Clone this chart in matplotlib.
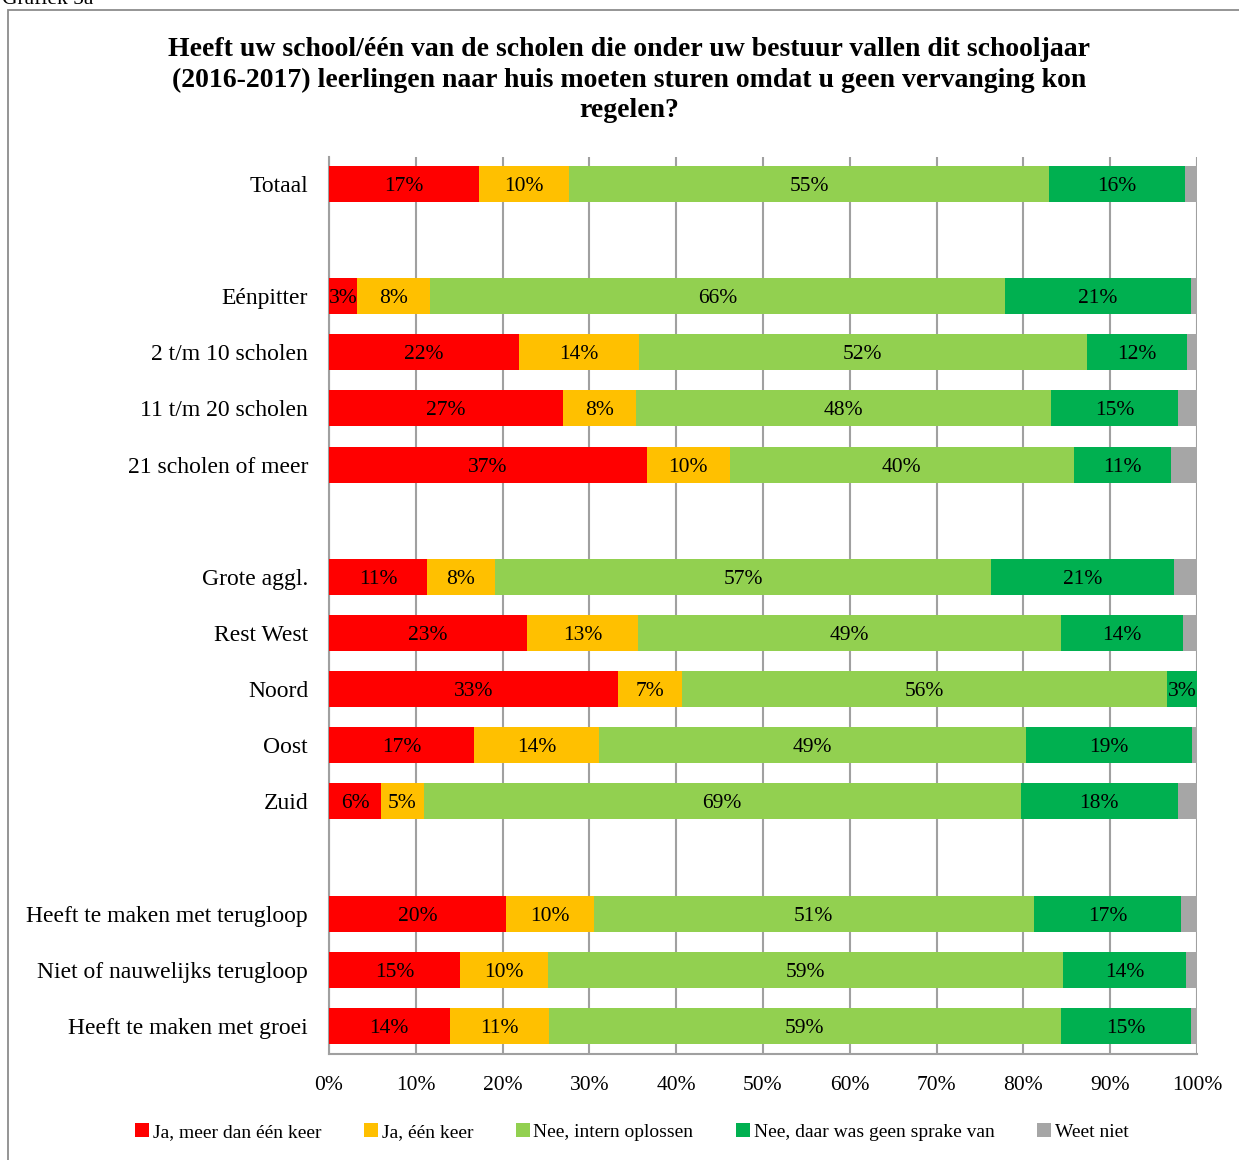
import matplotlib.pyplot as plt
from matplotlib.patches import Rectangle

plt.rcParams['font.family'] = ['Liberation Serif', 'DejaVu Serif']

categorieen = ["Totaal", "", "Eénpitter", "2 t/m 10 scholen", "11 t/m 20 scholen",
               "21 scholen of meer", "", "Grote aggl.", "Rest West", "Noord", "Oost",
               "Zuid", "", "Heeft te maken met terugloop", "Niet of nauwelijks terugloop",
               "Heeft te maken met groei"]

# percentages per reeks (lege rijen = None)
ja_meer = [17.3, None, 3.2, 21.9, 27.0, 36.6, None, 11.3, 22.8, 33.3, 16.7, 6.0, None, 20.4, 15.1, 13.9]
ja_een = [10.4, None, 8.4, 13.8, 8.4, 9.6, None, 7.8, 12.8, 7.4, 14.4, 4.9, None, 10.1, 10.1, 11.4]
nee_intern = [55.2, None, 66.3, 51.6, 47.8, 39.6, None, 57.2, 48.7, 55.9, 49.2, 68.8, None, 50.7, 59.4, 59.0]
nee_geen = [15.7, None, 21.4, 11.6, 14.6, 11.2, None, 21.1, 14.1, 3.4, 19.1, 18.1, None, 17.0, 14.1, 15.0]
weet_niet = [1.4, None, 0.7, 1.1, 2.2, 3.0, None, 2.6, 1.6, 0.0, 0.6, 2.2, None, 1.8, 1.3, 0.7]

reeksen = [ja_meer, ja_een, nee_intern, nee_geen, weet_niet]
namen = ["Ja, meer dan één keer", "Ja, één keer", "Nee, intern oplossen",
         "Nee, daar was geen sprake van", "Weet niet"]
kleuren = ["#FF0000", "#FFC000", "#92D050", "#00B050", "#A6A6A6"]
met_label = [True, True, True, True, False]

titel = ("Heeft uw school/één van de scholen die onder uw bestuur vallen dit schooljaar\n"
         "(2016-2017) leerlingen naar huis moeten sturen omdat u geen vervanging kon\n"
         "regelen?")

fig = plt.figure(figsize=(12.39, 11.6), dpi=100)
ax = fig.add_axes([0.2655, 0.0914, 0.7006, 0.7733])

rijen = [i for i, c in enumerate(categorieen) if c != ""]
links = {i: 0.0 for i in rijen}
for waarden, naam, kleur, lab in zip(reeksen, namen, kleuren, met_label):
    ys = [i for i in rijen]
    ws = [waarden[i] for i in rijen]
    ls = [links[i] for i in rijen]
    ax.barh(ys, ws, left=ls, height=0.64, color=kleur, label=naam, zorder=3)
    if lab:
        for y, w, l in zip(ys, ws, ls):
            ax.text(l + w / 2, y, f"{w:.0f}%", ha='center', va='center_baseline',
                    fontsize=15.5, color='black', zorder=4)
    for i in rijen:
        links[i] += waarden[i]

ax.set_xlim(0, 100)
ax.set_ylim(15.5, -0.48)
ax.set_xticks(range(0, 101, 10))
ax.set_xticklabels([f"{v}%" for v in range(0, 101, 10)], fontsize=15.5)
ax.set_yticks(range(len(categorieen)))
ax.set_yticklabels(categorieen, fontsize=17)
ax.tick_params(axis='both', length=0)
ax.tick_params(axis='x', pad=16)
ax.tick_params(axis='y', pad=15)
ax.grid(axis='x', color='#A0A0A0', linewidth=1.5, zorder=0)
for s in ['top', 'right']:
    ax.spines[s].set_visible(False)
for s in ['left', 'bottom']:
    ax.spines[s].set_color('#A0A0A0')
    ax.spines[s].set_linewidth(1.5)

fig.text(0.508, 1 - 37 / 1160, titel, ha='center', va='top', fontsize=20,
         fontweight='bold', linespacing=1.28)

fig.legend(loc='center', bbox_to_anchor=(0.51, 0.024), ncol=5, frameon=False,
           fontsize=14, handlelength=0.7, handleheight=0.7, handletextpad=0.2,
           columnspacing=2.2)

# kader en koptekst
fig.patches.append(Rectangle((8 / 1239, -0.1), 1.2, 1.1 - 10 / 1160,
                             transform=fig.transFigure, fill=False,
                             edgecolor='#8C8C8C', linewidth=1.3))
fig.text(0.002, 1 - 4 / 1160, "Grafiek 5a", ha='left', va='baseline', fontsize=15.5)

fig.savefig("out.png", dpi=100)
